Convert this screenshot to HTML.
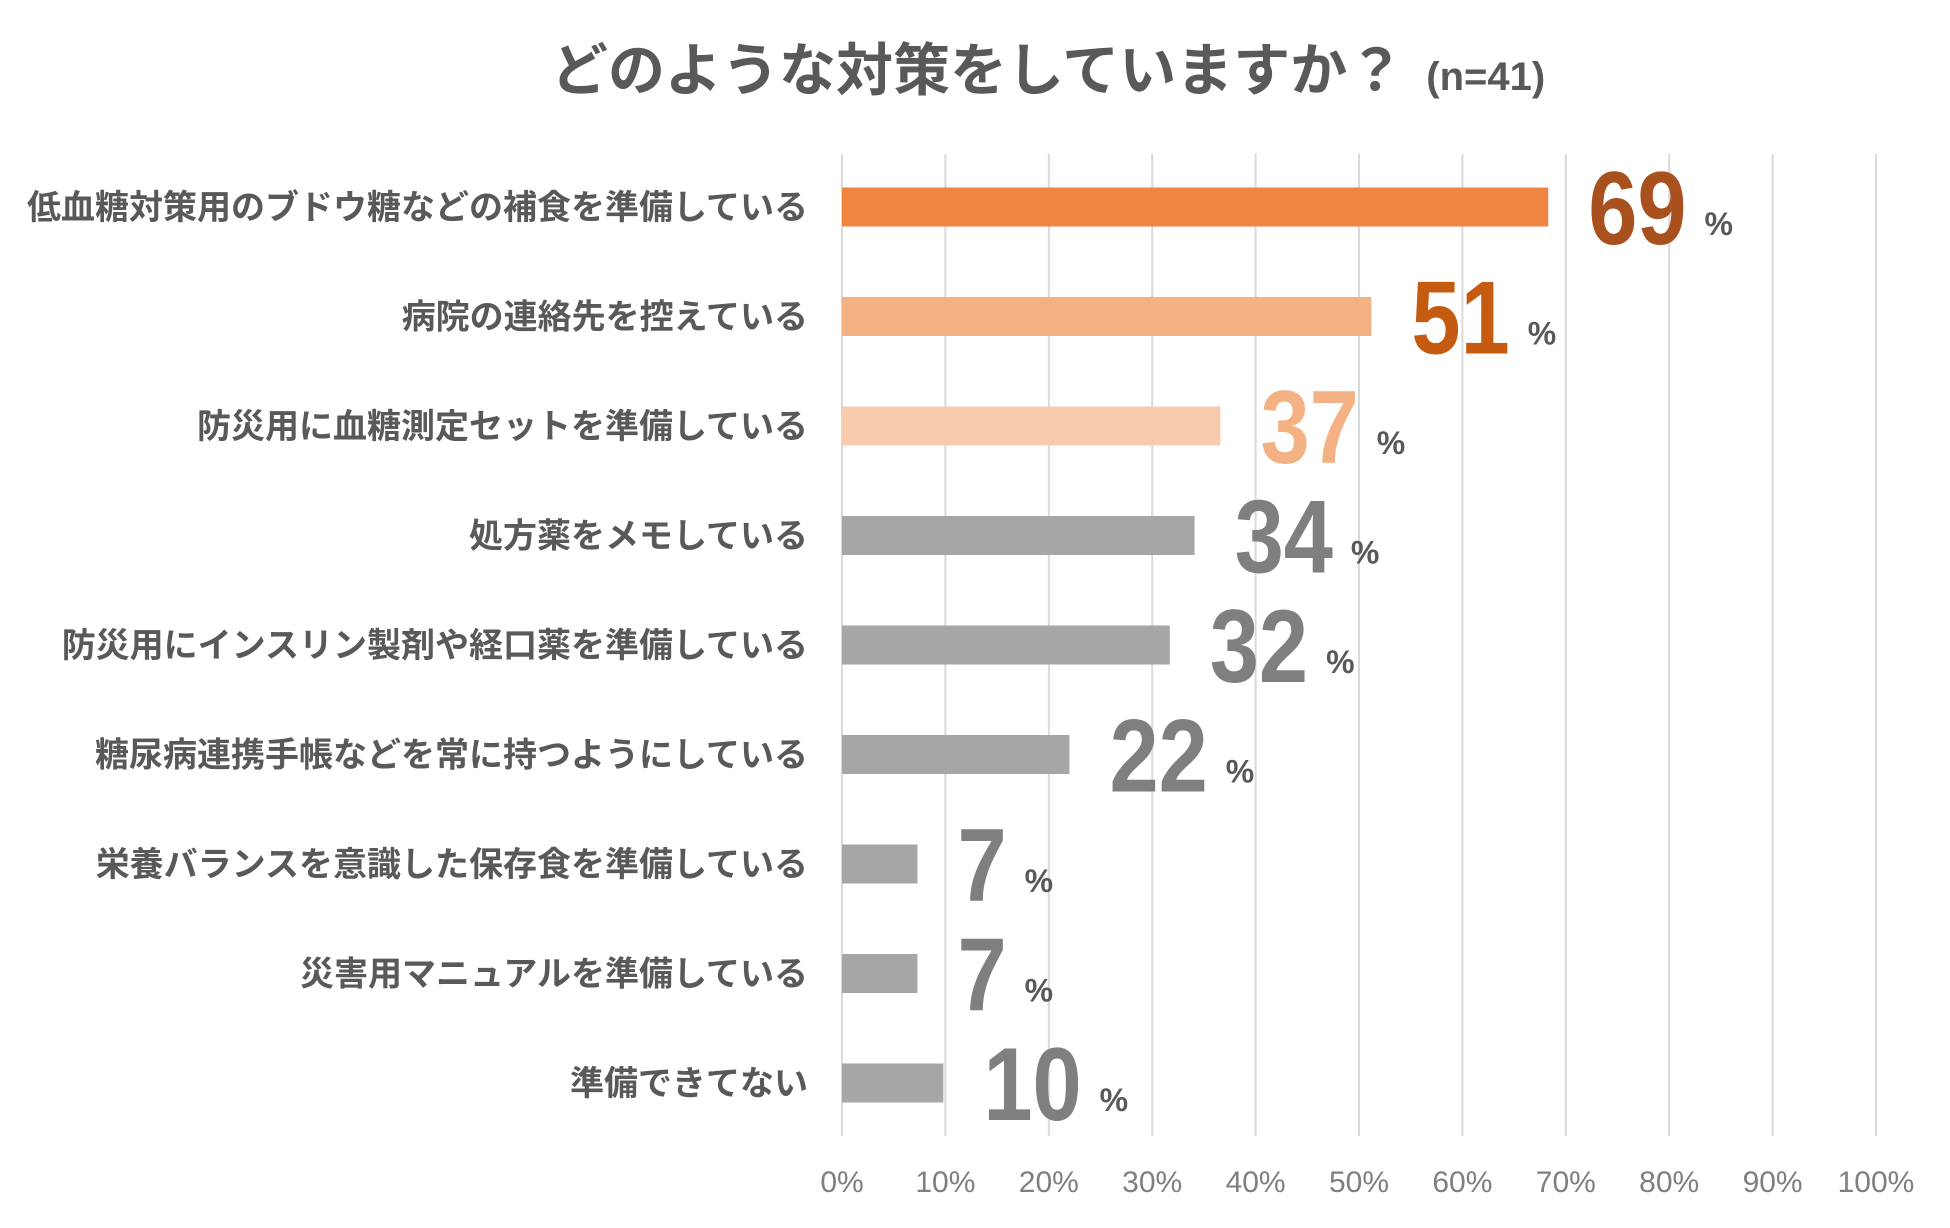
<!DOCTYPE html>
<html><head><meta charset="utf-8">
<style>
html,body{margin:0;padding:0;background:#fff;}
body{width:1950px;height:1223px;overflow:hidden;font-family:"Liberation Sans","Noto Sans CJK JP",sans-serif;}
</style></head>
<body>
<svg id="chart" width="1950" height="1223" xmlns="http://www.w3.org/2000/svg">
<text x="551" y="90" font-size="57" font-weight="bold" fill="#595959" font-family="'Liberation Sans','Noto Sans CJK JP',sans-serif">どのような対策をしていますか？<tspan font-size="40" dx="22">(n=41)</tspan></text>
<g id="grid"></g><g id="bars"></g><g id="labels"></g>
</svg>
<script>
const categories=["低血糖対策用のブドウ糖などの補食を準備している","病院の連絡先を控えている","防災用に血糖測定セットを準備している","処方薬をメモしている","防災用にインスリン製剤や経口薬を準備している","糖尿病連携手帳などを常に持つようにしている","栄養バランスを意識した保存食を準備している","災害用マニュアルを準備している","準備できてない"];
const values=[68.3,51.2,36.6,34.1,31.7,22.0,7.3,7.3,9.8];
const valueLabels=["69","51","37","34","32","22","7","7","10"];
const ticks=[0,10,20,30,40,50,60,70,80,90,100];
const barColors=["#F08542","#F3B184","#F7CBAC","#A6A6A6","#A6A6A6","#A6A6A6","#A6A6A6","#A6A6A6","#A6A6A6"];
const numColors=["#A9501F","#C55A11","#F4B183","#7F7F7F","#7F7F7F","#7F7F7F","#7F7F7F","#7F7F7F","#7F7F7F"];
const NS="http://www.w3.org/2000/svg";
const x0=842,x1=1876,yTop=154,yBot=1136,rowH=109.5,firstY=207,barH=39;
const xs=v=>x0+(x1-x0)*v/100;
const ys=i=>firstY+i*rowH;
function mk(t,a,p){const e=document.createElementNS(NS,t);for(const k in a)e.setAttribute(k,a[k]);p.appendChild(e);return e;}
const grid=document.getElementById('grid'),bars=document.getElementById('bars'),labels=document.getElementById('labels');
ticks.forEach(t=>{
 const l=mk('line',{x1:xs(t),x2:xs(t),y1:yTop,y2:yBot,stroke:'#D9D9D9','stroke-width':2},grid);
 
 
 const tx=mk('text',{x:xs(t),y:1192,'text-anchor':'middle','font-size':30,fill:'#7F7F7F'},grid);
 tx.textContent=t+'%';
 
 
});
categories.forEach((c,i)=>{
 const cy=ys(i);
 const r=mk('rect',{x:x0,y:cy-barH/2,width:xs(values[i])-x0,height:barH,fill:barColors[i]},bars);
 
 
 const cl=mk('text',{x:808,y:cy+12,'text-anchor':'end','font-size':34,'font-weight':'bold',fill:'#595959'},labels);
 cl.textContent=c;
 
 
 const nx=xs(values[i])+40;
 const g=mk('g',{transform:'translate('+nx+','+(cy+37)+') scale(0.85,1)'},labels);
 const n=mk('text',{x:0,y:0,'font-size':104,'font-weight':'bold',fill:numColors[i]},g);
 n.textContent=valueLabels[i];
 
 
 const w=n.getComputedTextLength()*0.85;
 const p=mk('text',{x:nx+w+18,y:cy+28,'font-size':32,'font-weight':'bold',fill:'#595959'},labels);
 p.textContent='%';
 
 
});
</script>
</body></html>
